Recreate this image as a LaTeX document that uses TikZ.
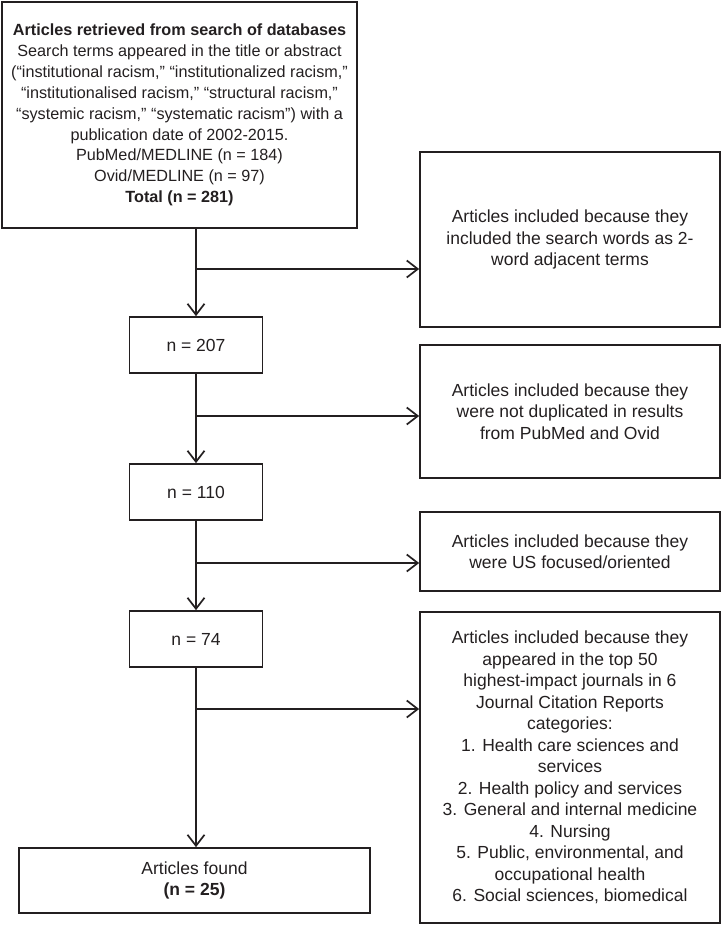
\documentclass[tikz,border=0pt]{standalone}
\usepackage{fontspec}
\setmainfont{Liberation Sans}
\usetikzlibrary{arrows.meta}
\definecolor{ink}{HTML}{231F20}

\begin{document}
\begin{tikzpicture}[x=1pt, y=-1pt,
  box/.style={rectangle, draw=ink, line width=1.7pt, text=ink, align=center,
              inner sep=0pt, font=\fontsize{17.5}{21.5}\selectfont},
  count/.style={box, minimum width=133pt, minimum height=56pt},
  flow/.style={-{Straight Barb[length=11pt, width=17pt, line width=1.7pt]},
               line width=1.7pt, draw=ink}
]
  \useasboundingbox (0,0) rectangle (721,925);

  % ── Left column: search and counts ─────────────────────────────────────
  \node[box, minimum width=355pt, minimum height=226pt,
        font=\fontsize{16.2}{20.9}\selectfont] (search) at (179.5,115)
    {\textbf{Articles retrieved from search of databases}\\
     Search terms appeared in the title or abstract\\
     (“institutional racism,” “institutionalized racism,”\\
     “institutionalised racism,” “structural racism,”\\
     “systemic racism,” “systematic racism”) with a\\
     publication date of 2002-2015.\\
     PubMed/MEDLINE (n = 184)\\
     Ovid/MEDLINE (n = 97)\\
     \textbf{Total (n = 281)}};
  \node[count] (n207) at (196,345) {n = 207};
  \node[count] (n110) at (196,492) {n = 110};
  \node[count] (n74)  at (196,639) {n = 74};
  \node[box, minimum width=351pt, minimum height=65pt] (found) at (194.5,880.5)
    {Articles found\\\textbf{(n = 25)}};

  % ── Right column: inclusion criteria ───────────────────────────────────
  \node[box, minimum width=300pt, minimum height=175pt] (incl1) at (570,239.5)
    {Articles included because they\\
     included the search words as 2-\\
     word adjacent terms};
  \node[box, minimum width=300pt, minimum height=133pt] (incl2) at (570,411.5)
    {Articles included because they\\
     were not duplicated in results\\
     from PubMed and Ovid};
  \node[box, minimum width=300pt, minimum height=79pt]  (incl3) at (570,551.5)
    {Articles included because they\\
     were US focused/oriented};
  \node[box, minimum width=300pt, minimum height=311pt] (incl4) at (570,767.5)
    {Articles included because they\\
     appeared in the top 50\\
     highest-impact journals in 6\\
     Journal Citation Reports\\
     categories:\\
     1. Health care sciences and\\
     services\\
     2. Health policy and services\\
     3. General and internal medicine\\
     4. Nursing\\
     5. Public, environmental, and\\
     occupational health\\
     6. Social sciences, biomedical};

  % ── Branch points on the main line ─────────────────────────────────────
  \coordinate (b1) at (196,269);
  \coordinate (b2) at (196,416);
  \coordinate (b3) at (196,563);
  \coordinate (b4) at (196,709);

  % ── Main line ──────────────────────────────────────────────────────────
  \draw[flow] (search.south -| n207.north) -- (n207.north);
  \draw[flow] (n207.south) -- (n110.north);
  \draw[flow] (n110.south) -- (n74.north);
  \draw[flow] (n74.south)  -- (n74.south |- found.north);

  % ── Side branches ──────────────────────────────────────────────────────
  \draw[flow] (b1) -- (b1 -| incl1.west);
  \draw[flow] (b2) -- (b2 -| incl2.west);
  \draw[flow] (b3) -- (b3 -| incl3.west);
  \draw[flow] (b4) -- (b4 -| incl4.west);
\end{tikzpicture}
\end{document}
